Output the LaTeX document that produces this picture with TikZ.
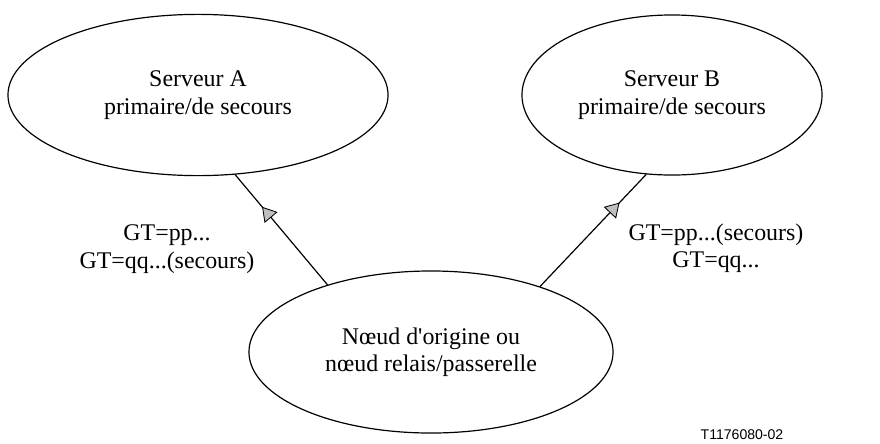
\documentclass[tikz,border=0pt]{standalone}
\usepackage{fontspec}
\setmainfont{Liberation Serif}
\newfontfamily\labelfont{Liberation Sans}
\usepackage{tikz}
\usetikzlibrary{arrows.meta}
\usetikzlibrary{shapes.geometric}
\usetikzlibrary{decorations.markings}

\begin{document}
\begin{tikzpicture}[x=0.025cm,y=-0.025cm]
  \tikzstyle{srv} = [ellipse, draw=black, line width=0.85pt, inner sep=0pt, align=center, font=\fontsize{17}{19.5}\selectfont]
  \tikzstyle{txt} = [align=center, font=\fontsize{17}{19.5}\selectfont]
  \useasboundingbox (0,0) rectangle (880,443);

  \node (SrvA) [srv, minimum width=9.5cm, minimum height=4.03cm] at (198,95) {Serveur A\\primaire/de secours};
  \node (SrvB) [srv, minimum width=7.5cm, minimum height=4cm] at (672,95) {Serveur B\\primaire/de secours};
  \node (Orig) [srv, minimum width=9.1cm, minimum height=4.05cm] at (431,352) {N\oe ud d\textquotesingle origine ou\\n\oe ud relais/passerelle};

  \node (gA) [txt] at (167,249) {GT=pp...\\GT=qq...(secours)};
  \node (gB) [txt] at (716,248) {GT=pp...(secours)\\GT=qq...};

  \draw[line width=0.85pt, postaction={decorate}, decoration={markings, mark=at position 0.71 with {\arrow{Triangle[length=0.35cm,width=0.42cm,fill=black!25,line width=0.6pt]}}}] (Orig.147) -- (SrvA.-65);
  \draw[line width=0.85pt, postaction={decorate}, decoration={markings, mark=at position 0.75 with {\arrow{Triangle[length=0.35cm,width=0.42cm,fill=black!25,line width=0.6pt]}}}] (Orig.31) -- (SrvB.-108);

  \node (ref) [font=\labelfont\fontsize{10}{12}\selectfont] at (742,435) {T1176080-02};
\end{tikzpicture}
\end{document}
